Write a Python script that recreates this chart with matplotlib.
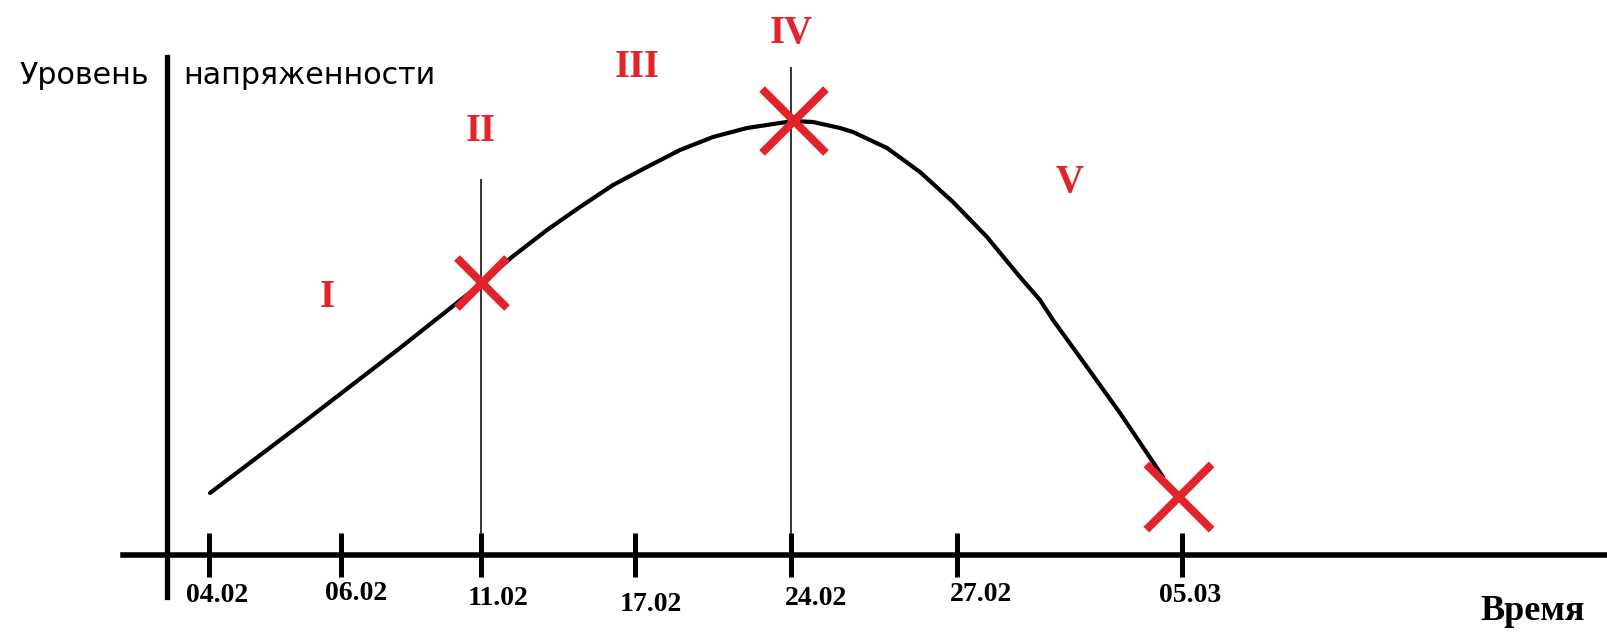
import matplotlib
matplotlib.use("Agg")
import matplotlib.pyplot as plt
import matplotlib.transforms as mtransforms

# data (x: arbitrary time units, y: tension level)
dates = ["04.02", "06.02", "11.02", "17.02", "24.02", "27.02", "05.03"]
date_pos = [4.2, 17.4, 31.4, 46.8, 62.4, 79.0, 101.5]

curve_x = [4.3, 13.3, 23.3, 31.5, 34.5, 38.0, 41.3, 44.6, 48.0, 51.3, 54.6,
           58.0, 61.3, 62.6, 64.6, 67.3, 68.6, 72.0, 75.3, 78.6, 82.0, 85.3,
           87.3, 88.6, 92.0, 95.3, 99.0, 99.6]
curve_y = [6.2, 13.0, 20.7, 27.2, 29.8, 32.5, 34.8, 37.0, 38.8, 40.5, 41.8,
           42.7, 43.2, 43.4, 43.3, 42.7, 42.3, 40.7, 38.3, 35.3, 31.8, 27.8,
           25.5, 23.5, 18.8, 14.2, 8.7, 7.8]

cross_x = [31.5, 62.7, 101.2]
cross_y = [27.2, 43.4, 5.8]

guide_x = [31.4, 62.4]
guide_top = [37.6, 48.8]

phases = ["I", "II", "III", "IV", "V"]
phase_x = [16.0, 31.4, 47.0, 62.4, 90.3]
phase_y = [24.8, 41.4, 47.8, 51.2, 36.3]

RED = '#e3232b'
serif_bold = dict(family='Liberation Serif', weight='bold')

fig = plt.figure(figsize=(16.08, 6.4), dpi=100)
ax = fig.add_axes([0, 0, 1, 1])
ax.set_xlim(-16.7, 144.1)
ax.set_ylim(-8.5, 55.5)

# axes lines
for side in ['top', 'right']:
	ax.spines[side].set_visible(False)
ax.spines['left'].set_position(('data', 0))
ax.spines['bottom'].set_position(('data', 0))
ax.spines['left'].set_bounds(-4.2, 49.8)
ax.spines['bottom'].set_bounds(-4.4, 144.1)
ax.spines['left'].set_linewidth(3.8)
ax.spines['bottom'].set_linewidth(4)
ax.patch.set_visible(False)

ax.set_yticks([])
ax.set_xticks(date_pos, dates)
ax.tick_params(axis='x', direction='inout', length=31, width=3.6, pad=5,
               labelsize=20)

# nudge tick labels a little like the hand drawn original
dx = [8, 15, 17, 16, 25, 24, 8]
dy = [0, -2, 3, 9, 3, -1, 0]
for lab, a, b in zip(ax.get_xticklabels(), dx, dy):
	lab.set_fontfamily('Liberation Serif')
	lab.set_fontweight('bold')
	off = mtransforms.ScaledTranslation(a / 100, -b / 100, fig.dpi_scale_trans)
	lab.set_transform(lab.get_transform() + off)

# thin guide lines
ax.vlines(guide_x, 0, guide_top, color='black', linewidth=1.1)

# curve
ax.plot(curve_x, curve_y, color='black', linewidth=3, solid_capstyle='round',
        solid_joinstyle='round')

# red crosses
ax.scatter(cross_x, cross_y, marker='x', s=[36**2, 46**2, 47**2], c=RED,
           linewidths=5.8, zorder=5)

# roman numerals
for t, x, y in zip(phases, phase_x, phase_y):
	ax.text(x, y, t, color=RED, fontsize=28, ha='center', va='baseline',
	        **serif_bold)

# axis titles
ax.text(-1.8, 47.1, "Уровень", fontsize=21.7, family='DejaVu Sans',
        ha='right', va='baseline')
ax.text(1.6, 47.1, "напряженности", fontsize=21.7, family='DejaVu Sans',
        ha='left', va='baseline')
ax.text(141.8, -6.5, "Время", fontsize=26, ha='right', va='baseline',
        **serif_bold)

fig.savefig("out.png", dpi=100)
